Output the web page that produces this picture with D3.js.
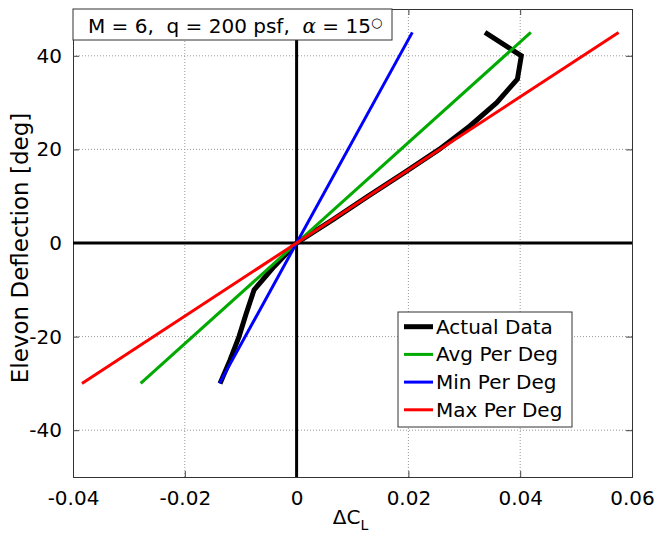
<!DOCTYPE html>
<html><head><meta charset="utf-8">
<script src="https://cdn.jsdelivr.net/npm/d3@7"></script>
<style>body{margin:0;background:#fff}svg{display:block}text{font-family:"DejaVu Sans",sans-serif;fill:#000}</style>
</head><body>
<script>
const deflection = [-30,-25,-20,-15,-10,-5,0,5,10,15,20,25,30,35,40,45];
const actualDCL = [-0.0137,-0.0119,-0.0103,-0.0090,-0.0076,-0.0040,0,0.0065,0.0128,0.0192,0.0255,0.0310,0.0358,0.0395,0.0402,0.0337];
const fitDefl = [-30,45];
const avgDCL = [-0.0279,0.0419];
const minDCL = [-0.0138,0.0207];
const maxDCL = [-0.0384,0.0576];
const xTicks = [-0.04,-0.02,0,0.02,0.04,0.06];
const xTickLabels = ["-0.04","-0.02","0","0.02","0.04","0.06"];
const yTicks = [-40,-20,0,20,40];
const yTickLabels = ["-40","-20","0","20","40"];
const legendLabels = ["Actual Data","Avg Per Deg","Min Per Deg","Max Per Deg"];
const colors = ["#000000","#00aa00","#0000ff","#ff0000"];

const W=655,H=535;
const svg=d3.select("body").append("svg").attr("width",W).attr("height",H);
const x=d3.scaleLinear().domain([-0.04,0.06]).range([73,632]);
const y=d3.scaleLinear().domain([-50,50]).range([477,9]);

// grid
const g=svg.append("g");
g.selectAll(".gx").data(xTicks.slice(1,-1)).join("line")
 .attr("x1",d=>x(d)).attr("x2",d=>x(d)).attr("y1",y(-50)).attr("y2",y(50))
 .attr("stroke","#999").attr("stroke-width",1).attr("stroke-dasharray","1,2");
g.selectAll(".gy").data(yTicks).join("line")
 .attr("y1",d=>y(d)).attr("y2",d=>y(d)).attr("x1",x(-0.04)).attr("x2",x(0.06))
 .attr("stroke","#999").attr("stroke-width",1).attr("stroke-dasharray","1,2");

// axes via d3 axes (inward ticks)
const axB=svg.append("g").attr("transform",`translate(0,${y(-50)})`)
 .call(d3.axisBottom(x).tickValues(xTicks).tickSize(-6).tickPadding(14).tickFormat((d,i)=>xTickLabels[i]));
const axT=svg.append("g").attr("transform",`translate(0,${y(50)})`)
 .call(d3.axisTop(x).tickValues(xTicks).tickSize(-6).tickFormat(""));
const axL=svg.append("g").attr("transform",`translate(${x(-0.04)},0)`)
 .call(d3.axisLeft(y).tickValues(yTicks).tickSize(-6).tickPadding(11).tickFormat((d,i)=>yTickLabels[i]));
const axR=svg.append("g").attr("transform",`translate(${x(0.06)},0)`)
 .call(d3.axisRight(y).tickValues(yTicks).tickSize(-6).tickFormat(""));
[axB,axT,axL,axR].forEach(a=>{
  a.select(".domain").attr("stroke","#333");
  a.selectAll(".tick line").attr("stroke","#444");
  a.selectAll("text").style("font-family","DejaVu Sans").style("font-size","20px").attr("fill","#000");
});

// zero lines
svg.append("line").attr("x1",x(0)).attr("x2",x(0)).attr("y1",y(-50)).attr("y2",y(50)).attr("stroke","#000").attr("stroke-width",3);
svg.append("line").attr("x1",x(-0.04)).attr("x2",x(0.06)).attr("y1",y(0)).attr("y2",y(0)).attr("stroke","#000").attr("stroke-width",3);

const line=d3.line().x(d=>x(d[0])).y(d=>y(d[1]));
svg.append("path").datum(deflection.map((d,i)=>[actualDCL[i],d])).attr("d",line)
 .attr("fill","none").attr("stroke",colors[0]).attr("stroke-width",5).attr("stroke-linejoin","miter");
[[avgDCL,colors[1]],[minDCL,colors[2]],[maxDCL,colors[3]]].forEach(([arr,c])=>{
  svg.append("path").datum(fitDefl.map((d,i)=>[arr[i],d])).attr("d",line)
   .attr("fill","none").attr("stroke",c).attr("stroke-width",3);
});

// title box
svg.append("rect").attr("x",73).attr("y",9).attr("width",319).attr("height",31).attr("fill","#fff").attr("stroke","#333");
const t=svg.append("text").attr("x",88).attr("y",33).style("font-size","20px");
t.append("tspan").text("M = 6,  q = 200 psf,  ").style("white-space","pre");
t.append("tspan").text("α").style("font-family","DejaVu Serif").style("font-style","italic");
t.append("tspan").text(" = 15").style("white-space","pre");
t.append("tspan").text("○").attr("dy",-6).style("font-size","13px");

// labels
const xl=svg.append("text").attr("x",x(0.01)-2).attr("y",524).attr("text-anchor","middle").style("font-size","20px");
xl.append("tspan").text("ΔC");
xl.append("tspan").text("L").attr("dy",6).style("font-size","14px");
svg.append("text").attr("transform",`translate(28,248) rotate(-90)`).attr("text-anchor","middle").style("font-size","23px").text("Elevon Deflection [deg]");

// legend
const lg=svg.append("g");
lg.append("rect").attr("x",398).attr("y",312).attr("width",174).attr("height",115).attr("fill","#fff").attr("stroke","#333");
legendLabels.forEach((l,i)=>{
  const cy=326.7+i*27.7;
  lg.append("line").attr("x1",404).attr("x2",433).attr("y1",cy).attr("y2",cy).attr("stroke",colors[i]).attr("stroke-width",i===0?5:3);
  lg.append("text").attr("x",436).attr("y",cy+7).style("font-size","20px").text(l);
});
</script>
</body></html>
